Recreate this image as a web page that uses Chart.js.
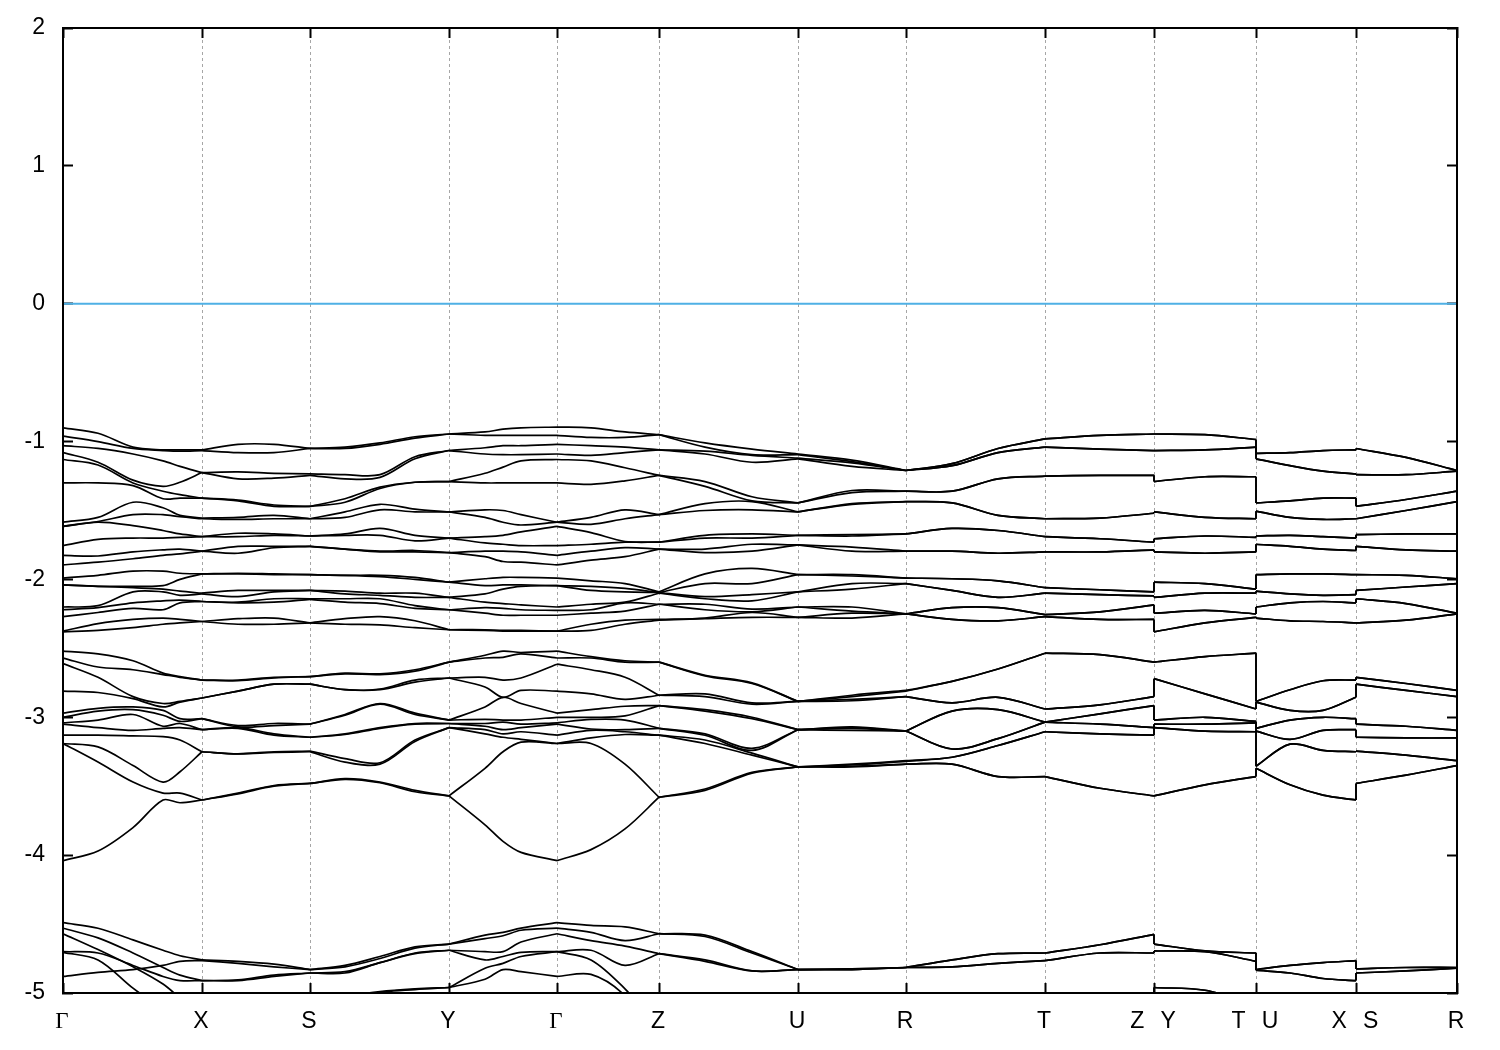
<!DOCTYPE html>
<html><head><meta charset="utf-8">
<style>html,body{margin:0;padding:0;background:#fff}canvas{display:block}</style>
<script src="https://cdn.jsdelivr.net/npm/chart.js@4"></script>
</head><body><canvas id="c" width="1500" height="1050"></canvas>
<script>
// high symmetry points along the path, and their labels
const pathNodes=[0,139,247,386,494,596,735,843,982,1091,1193,1293,1394];
const pathLabels=['Γ','X','S','Y','Γ','Z','U','R','T','Z\u2002\u2009Y','T\u2002\u2009U','X\u2002\u2009S','R'];
const energyTicks=[2,1,0,-1,-2,-3,-4,-5];
const fermi=[0,0];
// k positions of the sampled columns in each continuous stretch of the path
const kMain=[0,35,70,100,117,139,175,211,247,282,317,352,386,422,440,458,494,528,562,596,642,689,735,789,843,889,935,982,1037,1091];
const kYT=[1091,1142,1193];
const kUX=[1193,1227,1260,1293];
const kSR=[1293,1343,1394];
// energy levels (eV) at each k position; short lists are pairwise degenerate
const e00=[-0.90,-0.96,-1.03,-1.08,-1.13,-1.30,-1.585,-1.615,-1.615,-1.755,-1.826,-1.894,-1.99,-2.04,-2.04,-2.20,-2.22,-2.27,-2.375,-2.38, -2.52,-2.57,-2.61,-2.81,-2.97,-3.0,-3.04,-3.05,-3.13,-3.19,-3.19,-4.04, -4.49,-4.53,-4.57,-4.70,-4.705,-4.88];
const e01=[-0.94,-1.0,-1.05,-1.15,-1.17,-1.30,-1.55,-1.58,-1.585,-1.71,-1.83,-1.875,-1.97,-2.05,-2.05,-2.19,-2.205,-2.24,-2.32,-2.37, -2.54,-2.635,-2.71,-2.82,-2.935,-2.955,-3.02,-3.075,-3.13,-3.215,-3.325,-3.97, -4.53,-4.60,-4.685,-4.71,-4.76,-4.85];
const e02=[-1.04,-1.05,-1.09,-1.28,-1.30,-1.32,-1.44,-1.53,-1.61,-1.70,-1.80,-1.85,-1.94,-2.05,-2.06,-2.09,-2.17,-2.21,-2.29,-2.35, -2.59,-2.655,-2.85,-2.865,-2.925,-2.945,-2.98,-3.095,-3.135,-3.35,-3.47,-3.80, -4.615,-4.71,-4.81,-4.80,-4.965,-4.83];
const e03=[-1.06,-1.065,-1.14,-1.325,-1.36,-1.415,-1.48,-1.53,-1.645,-1.70,-1.785,-1.825,-1.94,-2.045,-2.07,-2.09,-2.155,-2.22,-2.28,-2.325, -2.68,-2.69,-2.90,-2.925,-2.95,-2.985,-3.065,-3.08,-3.14,-3.47,-3.55,-3.60, -4.69,-4.815,-4.935,-4.88,-5.12,-4.80];
const e04=[-1.06,-1.07,-1.18,-1.295,-1.385,-1.41,-1.535,-1.545,-1.67,-1.695,-1.78,-1.815,-1.955,-2.0,-2.085,-2.115,-2.15,-2.17,-2.29,-2.315, -2.705,-2.71,-2.885,-2.89,-3.01,-3.03,-3.045,-3.075,-3.165,-3.395,-3.55,-3.62, -4.73,-4.87,-5.04,-4.91,-5.22,-4.77];
const e05=[-1.06,-1.065,-1.225,-1.225,-1.41,-1.41,-1.555,-1.56,-1.69,-1.69,-1.795,-1.795,-1.96,-1.96,-2.10,-2.105,-2.16,-2.16,-2.305,-2.305, -2.73,-2.73,-2.86,-2.86,-3.01,-3.01,-3.09,-3.09,-3.25,-3.25,-3.60,-3.60, -4.76,-4.765,-4.91,-4.91,-5.2,-5.4];
// the same levels at X, in the order the Γ–X panel traces them
const e05GammaX=[-1.06,-1.065,-1.225,-1.225,-1.41,-1.41,-1.555,-1.56,-1.69,-1.69,-1.795,-1.795,-1.96,-1.96,-2.10,-2.105,-2.16,-2.16,-2.305,-2.305, -2.73,-2.73,-2.86,-2.86,-3.01,-3.01,-3.09,-3.09,-3.25,-3.25,-3.60,-3.60, -4.76,-4.91,-5.2,-4.91,-5.4,-4.765];
const e06=[-1.02,-1.08,-1.22,-1.27,-1.425,-1.43,-1.55,-1.565,-1.665,-1.69,-1.76,-1.81,-1.955,-1.96,-2.08,-2.125,-2.165,-2.17,-2.285,-2.325, -2.73,-2.735,-2.81,-2.81,-3.06,-3.07,-3.075,-3.08,-3.265,-3.265,-3.55,-3.555, -4.77,-4.785,-4.905,-4.91,-5.2,-5.4];
const e07=[-1.02,-1.08,-1.23,-1.265,-1.46,-1.47,-1.535,-1.56,-1.67,-1.68,-1.76,-1.77,-1.96,-1.965,-2.08,-2.09,-2.14,-2.165,-2.28,-2.325, -2.71,-2.715,-2.76,-2.76,-3.045,-3.06,-3.12,-3.13,-3.25,-3.255,-3.495,-3.50, -4.79,-4.81,-4.87,-4.88,-5.15,-5.3];
const e08=[-1.05,-1.05,-1.235,-1.245,-1.47,-1.47,-1.56,-1.56,-1.685,-1.685,-1.76,-1.76,-1.965,-1.965,-2.08,-2.08,-2.14,-2.145,-2.315,-2.315, -2.705,-2.705,-2.76,-2.76,-3.05,-3.05,-3.145,-3.145,-3.245,-3.25,-3.48,-3.48, -4.83,-4.83,-4.855,-4.855,-5.1,-5.2];
const e09=[-1.04,-1.05,-1.24,-1.27,-1.415,-1.44,-1.51,-1.55,-1.67,-1.68,-1.78,-1.78,-1.97,-1.97,-2.085,-2.105,-2.14,-2.165,-2.285,-2.325, -2.68,-2.685,-2.80,-2.80,-2.98,-2.985,-3.12,-3.125,-3.30,-3.325,-3.445,-3.45, -4.80,-4.81,-4.845,-4.855,-5.03,-5.1];
const e10=[-1.01,-1.02,-1.24,-1.26,-1.33,-1.34,-1.455,-1.495,-1.63,-1.68,-1.795,-1.80,-1.97,-1.98,-2.10,-2.115,-2.14,-2.175,-2.27,-2.33, -2.685,-2.69,-2.795,-2.80,-2.90,-2.905,-3.075,-3.08,-3.33,-3.34,-3.47,-3.475, -4.735,-4.75,-4.78,-4.78,-4.99,-5.0];
const e11=[-0.965,-0.975,-1.11,-1.125,-1.295,-1.295,-1.49,-1.51,-1.68,-1.72,-1.79,-1.80,-1.985,-2.0,-2.10,-2.13,-2.19,-2.21,-2.30,-2.35, -2.655,-2.665,-2.73,-2.745,-2.97,-2.98,-3.045,-3.05,-3.165,-3.175,-3.53,-3.54, -4.665,-4.675,-4.71,-4.715,-4.97,-4.975];
const e12=[-0.945,-0.945,-1.065,-1.065,-1.29,-1.29,-1.51,-1.51,-1.70,-1.70,-1.805,-1.805,-2.02,-2.02,-2.13,-2.13,-2.22,-2.22,-2.365,-2.365, -2.60,-2.60,-2.715,-2.715,-3.02,-3.02,-3.045,-3.045,-3.075,-3.075,-3.57,-3.57, -4.645,-4.645,-4.69,-4.69,-4.96,-4.96];
const e13=[-0.93,-0.955,-1.045,-1.09,-1.23,-1.30,-1.495,-1.55,-1.69,-1.735,-1.795,-1.835,-1.995,-2.045,-2.105,-2.165,-2.205,-2.245,-2.365,-2.37, -2.55,-2.57,-2.71,-2.78,-2.925,-3.015,-3.045,-3.065,-3.09,-3.12,-3.37,-3.78, -4.58,-4.605,-4.70,-4.76,-4.82,-4.90];
const e13b=[-0.91,-0.955,-1.03,-1.095,-1.185,-1.30,-1.50,-1.585,-1.68,-1.745,-1.795,-1.87,-1.985,-2.04,-2.07,-2.175,-2.21,-2.26,-2.37,-2.375, -2.52,-2.565,-2.73,-2.855,-2.855,-3.02,-3.035,-3.09,-3.12,-3.145,-3.25,-3.90, -4.56,-4.585,-4.70,-4.735,-4.785,-4.83];
const e14=[-0.90,-0.955,-1.03,-1.095,-1.14,-1.30,-1.53,-1.605,-1.655,-1.755,-1.80,-1.875,-1.985,-2.04,-2.05,-2.185,-2.22,-2.26,-2.37,-2.375, -2.53,-2.54,-2.715,-2.805,-2.90,-3.02,-3.05,-3.075,-3.105,-3.16,-3.18,-3.98, -4.53,-4.545,-4.63,-4.705,-4.735,-4.845];
const e15=[-0.895,-0.955,-1.02,-1.09,-1.13,-1.30,-1.585,-1.585,-1.615,-1.755,-1.825,-1.895,-1.99,-2.045,-2.045,-2.20,-2.225,-2.26,-2.375,-2.375, -2.52,-2.57,-2.615,-2.81,-2.97,-3.0,-3.04,-3.05,-3.13,-3.19,-3.19,-4.04, -4.49,-4.53,-4.57,-4.70,-4.70,-4.88];
const e16=[-0.90,-0.97,-1.03,-1.10,-1.14,-1.31,-1.55,-1.60,-1.66,-1.745,-1.795,-1.86,-2.01,-2.05,-2.08,-2.18,-2.22,-2.245,-2.325,-2.37, -2.56,-2.57,-2.655,-2.83,-2.945,-3.0,-3.015,-3.085,-3.095,-3.15,-3.19,-3.96, -4.51,-4.56,-4.62,-4.69,-4.76,-4.865];
const e17=[-0.93,-0.97,-1.04,-1.08,-1.19,-1.285,-1.495,-1.56,-1.725,-1.73,-1.77,-1.835,-2.03,-2.065,-2.09,-2.165,-2.17,-2.23,-2.295,-2.325, -2.59,-2.60,-2.71,-2.87,-2.92,-2.99,-3.02,-3.09,-3.105,-3.125,-3.34,-3.81, -4.52,-4.62,-4.66,-4.80,-4.97,-5.02];
const e18=[-0.95,-0.95,-1.06,-1.06,-1.245,-1.245,-1.53,-1.53,-1.73,-1.73,-1.78,-1.78,-2.09,-2.095,-2.095,-2.10,-2.18,-2.18,-2.29,-2.295, -2.60,-2.60,-2.84,-2.84,-2.915,-2.915,-3.08,-3.08,-3.13,-3.13,-3.58,-3.58, -4.57,-4.57,-4.715,-4.715,-5.25,-5.35];
const e19=[-1.01,-1.04,-1.07,-1.09,-1.29,-1.325,-1.45,-1.50,-1.68,-1.70,-1.78,-1.805,-1.96,-2.03,-2.125,-2.14,-2.18,-2.22,-2.28,-2.285, -2.695,-2.70,-2.83,-2.85,-2.945,-2.955,-3.12,-3.13,-3.165,-3.19,-3.52,-3.53, -4.58,-4.59,-4.76,-4.77,-5.4,-5.4];
const e20=[-1.055,-1.095,-1.10,-1.15,-1.40,-1.43,-1.435,-1.495,-1.67,-1.70,-1.745,-1.795,-1.92,-2.03,-2.11,-2.155,-2.215,-2.235,-2.24,-2.275, -2.75,-2.755,-2.895,-2.905,-3.0,-3.01,-3.225,-3.24,-3.26,-3.275,-3.40,-3.405, -4.70,-4.71,-4.84,-4.84,-5.4,-5.4];
const e21=[-1.09,-1.095,-1.12,-1.125,-1.445,-1.445,-1.51,-1.51,-1.68,-1.68,-1.75,-1.75,-1.965,-1.965,-2.09,-2.09,-2.20,-2.20,-2.275,-2.275, -2.885,-2.885,-2.885,-2.885,-3.09,-3.09,-3.09,-3.09,-3.36,-3.36,-3.36,-3.36, -4.83,-4.83,-4.83,-4.83,-5.4,-5.4];
const e22=[-1.135,-1.145,-1.155,-1.18,-1.355,-1.37,-1.45,-1.455,-1.675,-1.685,-1.765,-1.795,-1.965,-1.975,-2.03,-2.07,-2.20,-2.23,-2.245,-2.28, -2.84,-2.85,-2.87,-2.88,-3.07,-3.075,-3.08,-3.095,-3.34,-3.345,-3.355,-3.36, -4.825,-4.825,-4.83,-4.83,-5.4,-5.4];
const e23=[-1.21,-1.21,-1.21,-1.21,-1.36,-1.36,-1.435,-1.435,-1.67,-1.67,-1.795,-1.795,-1.99,-1.99,-2.03,-2.03,-2.25,-2.25,-2.25,-2.25, -2.805,-2.81,-2.85,-2.85,-3.10,-3.10,-3.10,-3.10,-3.315,-3.32,-3.34,-3.34, -4.815,-4.815,-4.815,-4.815,-5.4,-5.4];
const e24=[-1.16,-1.175,-1.36,-1.445,-1.63,-1.795,-1.995,-2.08,-2.205,-2.29, -2.74,-2.895,-2.955,-3.23,-3.29,-3.34, -4.76,-4.81,-5.4];
const e25=[-1.05,-1.08,-1.27,-1.535,-1.645,-1.81,-2.01,-2.13,-2.205,-2.30, -2.65,-2.855,-2.945,-3.155,-3.205,-3.43, -4.715,-4.785,-5.4];
const e26=[-0.98,-1.04,-1.25,-1.56,-1.69,-1.80,-2.06,-2.10,-2.255,-2.27, -2.535,-2.94,-3.035,-3.035,-3.105,-3.43, -4.71,-4.765,-5.4];
const e27=[-0.955,-1.055,-1.245,-1.555,-1.705,-1.80,-2.075,-2.11,-2.235,-2.29, -2.545,-2.91,-2.975,-3.05,-3.12,-3.515, -4.65,-4.71,-5.4];
const e28=[-0.945,-1.065,-1.245,-1.52,-1.73,-1.785,-2.09,-2.12,-2.185,-2.29, -2.60,-2.85,-2.915,-3.075,-3.13,-3.57, -4.575,-4.71,-5.4];
const y0=[-0.945,-1.065,-1.29,-1.51,-1.705,-1.80,-2.02,-2.13,-2.245,-2.38, -2.60,-2.72,-3.02,-3.05,-3.075,-3.57, -4.645,-4.695,-4.96];
const y1=[-0.95,-1.06,-1.255,-1.55,-1.685,-1.81,-2.03,-2.10,-2.225,-2.315, -2.56,-2.83,-3.0,-3.05,-3.10,-3.49, -4.695,-4.70,-4.98];
const y2=[-0.985,-1.04,-1.255,-1.56,-1.695,-1.80,-2.07,-2.10,-2.25,-2.275, -2.535,-2.94,-3.03,-3.04,-3.105,-3.43, -4.71,-4.77,-5.08];
const u0=[-1.085,-1.125,-1.445,-1.505,-1.685,-1.745,-1.965,-2.085,-2.20,-2.28, -2.885,-2.89,-3.08,-3.10,-3.355,-3.37, -4.83,-4.835,-5.4];
const u1=[-1.08,-1.175,-1.43,-1.55,-1.68,-1.76,-1.96,-2.105,-2.17,-2.30, -2.80,-2.95,-3.02,-3.16,-3.195,-3.49, -4.80,-4.855,-5.4];
const u2=[-1.065,-1.215,-1.41,-1.565,-1.69,-1.78,-1.96,-2.115,-2.16,-2.305, -2.735,-2.95,-3.0,-3.095,-3.24,-3.565, -4.78,-4.895,-5.4];
const u3=[-1.06,-1.235,-1.41,-1.56,-1.70,-1.79,-1.965,-2.11,-2.17,-2.315, -2.73,-2.855,-3.01,-3.09,-3.25,-3.60, -4.765,-4.91,-5.4];
const s0=[-1.05,-1.24,-1.47,-1.56,-1.675,-1.76,-1.965,-2.08,-2.14,-2.315, -2.71,-2.76,-3.05,-3.145,-3.245,-3.48, -4.825,-4.855,-5.4];
const s1=[-1.115,-1.24,-1.42,-1.50,-1.67,-1.785,-1.97,-2.055,-2.175,-2.295, -2.755,-2.805,-3.065,-3.15,-3.275,-3.42, -4.815,-4.84,-5.4];
const s2=[-1.21,-1.215,-1.36,-1.435,-1.67,-1.795,-1.995,-2.03,-2.245,-2.25, -2.805,-2.85,-3.095,-3.15,-3.315,-3.35, -4.815,-4.82,-5.4];

const colsMain=[e00,e01,e02,e03,e04,e05,e06,e07,e08,e09,e10,e11,e12,e13,e13b,e14,e15,e16,e17,e18,e19,e20,e21,e22,e23,e24,e25,e26,e27,e28];
const colsYT=[y0,y1,y2], colsUX=[u0,u1,u2,u3], colsSR=[s0,s1,s2];
const bandCount=e00.length;
const level=(col,i)=>col.length===bandCount?col[i]:col[i>>1];
const stretches=[[kMain,colsMain],[kYT,colsYT],[kUX,colsUX],[kSR,colsSR]];

const datasets=[];
const lineStyle={borderColor:'#000',borderWidth:1.7,pointRadius:0,fill:false};
for(let b=0;b<bandCount;b++){
  stretches.forEach(([ks,cols],s)=>{
    // each panel between two high symmetry points is a curve of its own, so kinks stay sharp at the points
    const cuts=ks.map((k,j)=>pathNodes.includes(k)?j:-1).filter(j=>j>=0);
    for(let c=0;c<cuts.length-1;c++){
      const pts=[];
      for(let j=cuts[c];j<=cuts[c+1];j++){
        const col=(s===0&&c===0&&j===cuts[1])?e05GammaX:cols[j];
        pts.push({x:ks[j],y:level(col,b)});
      }
      datasets.push({...lineStyle,label:'band '+(b+1),tension:0.33,data:pts});
    }
    if(s<stretches.length-1){
      const nk=ks[ks.length-1], nextCols=stretches[s+1][1];
      datasets.push({...lineStyle,label:'band '+(b+1)+' jump',
        data:[{x:nk,y:level(cols[cols.length-1],b)},{x:nk,y:level(nextCols[0],b)}]});
    }
  });
}
datasets.push({label:'Fermi level',borderColor:'#4fb0e5',borderWidth:2,pointRadius:0,
  data:[{x:pathNodes[0],y:fermi[0]},{x:pathNodes[pathNodes.length-1],y:fermi[1]}]});

const frame={display:true,color:'#000',width:2,z:2};
const setNodes=s=>{s.ticks=pathNodes.map(v=>({value:v}));};
const setEnergy=s=>{s.ticks=energyTicks.map(v=>({value:v}));};
const noPad=s=>{s.paddingTop=0;s.paddingBottom=0;s.paddingLeft=0;s.paddingRight=0;};
new Chart(document.getElementById('c'),{
  type:'line',
  data:{datasets},
  options:{
    responsive:false,animation:false,devicePixelRatio:1,
    layout:{padding:0},
    plugins:{legend:{display:false},tooltip:{enabled:false}},
    elements:{line:{borderCapStyle:'butt',borderJoinStyle:'miter'}},
    scales:{
      x:{type:'linear',position:'bottom',min:0,max:1394,border:{...frame,dash:[3,3]},afterBuildTicks:setNodes,
        afterFit:s=>{s.height=57;noPad(s);},
        grid:{color:'#a6a6a6',lineWidth:1,tickLength:-10,tickColor:'#000',tickWidth:2,tickBorderDash:[]},
        ticks:{autoSkip:false,maxRotation:0,minRotation:0,padding:25,labelOffset:-1,color:'#000',
          callback:(v,i)=>pathLabels[i],
          font:c=>({family:pathLabels[c.index]==='Γ'?'"Liberation Serif"':'"Liberation Sans"',size:23})}},
      xTop:{type:'linear',position:'top',min:0,max:1394,border:frame,afterBuildTicks:setNodes,
        afterFit:s=>{s.height=28;noPad(s);},
        grid:{drawOnChartArea:false,tickLength:-10,tickColor:'#000',tickWidth:2},ticks:{display:false}},
      y:{type:'linear',position:'left',min:-5,max:2,border:frame,afterBuildTicks:setEnergy,
        afterFit:s=>{s.width=63;noPad(s);},
        grid:{drawOnChartArea:false,tickLength:-10,tickColor:'#000',tickWidth:2},
        ticks:{padding:28,color:'#000',callback:v=>String(v),font:{family:'"Liberation Sans"',size:23}}},
      yRight:{type:'linear',position:'right',min:-5,max:2,border:frame,afterBuildTicks:setEnergy,
        afterFit:s=>{s.width=43;noPad(s);},
        grid:{drawOnChartArea:false,tickLength:-10,tickColor:'#000',tickWidth:2},ticks:{display:false}}
    }
  }
});
</script></body></html>
